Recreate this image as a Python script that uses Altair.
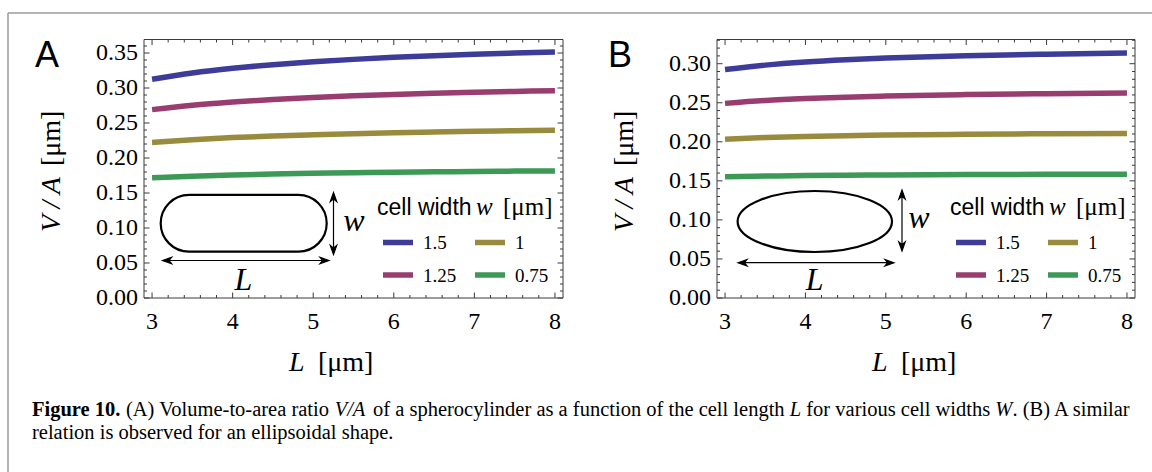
import altair as alt
import pandas as pd

# ---------------- data ----------------
widths = ["1.5", "1.25", "1", "0.75"]
colors = ["#3d3d99", "#993d71", "#998b3d", "#3d9956"]

# Panel A: spherocylinder
L_A = [3, 3.5, 4, 4.5, 5, 5.5, 6, 6.5, 7, 7.5, 8]
A_w150 = [0.3125, 0.3214, 0.3281, 0.3333, 0.3375, 0.3409, 0.3438, 0.3462, 0.3482, 0.3500, 0.3516]
A_w125 = [0.2691, 0.2753, 0.2799, 0.2836, 0.2865, 0.2888, 0.2908, 0.2925, 0.2939, 0.2951, 0.2962]
A_w100 = [0.2222, 0.2262, 0.2292, 0.2315, 0.2333, 0.2348, 0.2361, 0.2372, 0.2381, 0.2389, 0.2396]
A_w075 = [0.1719, 0.1741, 0.1758, 0.1771, 0.1781, 0.1790, 0.1797, 0.1803, 0.1808, 0.1813, 0.1816]

# Panel B: ellipsoid
L_B = [3, 3.5, 4, 4.5, 5, 6, 7, 8]
B_w150 = [0.2925, 0.2982, 0.3022, 0.3051, 0.3073, 0.3103, 0.3122, 0.3136]
B_w125 = [0.2492, 0.2529, 0.2554, 0.2572, 0.2586, 0.2605, 0.2616, 0.2624]
B_w100 = [0.2034, 0.2055, 0.2069, 0.2079, 0.2086, 0.2097, 0.2103, 0.2107]
B_w075 = [0.1552, 0.1561, 0.1568, 0.1572, 0.1576, 0.1580, 0.1583, 0.1585]

x_major = [3, 4, 5, 6, 7, 8]
x_labels = ["3", "4", "5", "6", "7", "8"]
x_minor = [3.2, 3.4, 3.6, 3.8, 4.2, 4.4, 4.6, 4.8, 5.2, 5.4, 5.6, 5.8,
           6.2, 6.4, 6.6, 6.8, 7.2, 7.4, 7.6, 7.8]
yA_major = [0, 0.05, 0.10, 0.15, 0.20, 0.25, 0.30, 0.35]
yA_labels = ["0.00", "0.05", "0.10", "0.15", "0.20", "0.25", "0.30", "0.35"]
yA_minor = [round(i * 0.01, 2) for i in range(1, 37) if i % 5]
yB_major = [0, 0.05, 0.10, 0.15, 0.20, 0.25, 0.30]
yB_labels = ["0.00", "0.05", "0.10", "0.15", "0.20", "0.25", "0.30"]
yB_minor = [round(i * 0.01, 2) for i in range(1, 34) if i % 5]

caption1 = [("Figure 10.", "bold"), (" (A) Volume-to-area ratio ", "normal"), ("V/A", "italic"),
            (" of a spherocylinder as a function of the cell length ", "normal"), ("L", "italic"),
            (" for various cell widths ", "normal"), ("W", "italic"), (". (B) A similar", "normal")]
caption2 = [("relation is observed for an ellipsoidal shape.", "normal")]

# ---------------- layout ----------------
SERIF = "Liberation Serif"
SANS = "Liberation Sans"
FRAME = "#3a3a3a"
TOP, BOT = 39.5, 298
A_X0, A_X1 = 144, 563
B_X0, B_X1 = 717, 1135
XDOM = [2.9, 8.1]
one = pd.DataFrame({"a": [0]})

REG = {' ': 250, '(': 333, ')': 333, '.': 250, '-': 333, '/': 278, 'A': 722, 'B': 667, 'V': 722,
       'W': 944, 'L': 611, 'a': 444, 'b': 500, 'c': 444, 'd': 500, 'e': 444, 'f': 333, 'g': 500,
       'h': 500, 'i': 278, 'j': 278, 'k': 500, 'l': 278, 'm': 778, 'n': 500, 'o': 500, 'p': 500,
       'q': 500, 'r': 333, 's': 389, 't': 278, 'u': 500, 'v': 500, 'w': 722, 'x': 500, 'y': 500,
       'z': 444}
ITA = {' ': 250, 'V': 611, '/': 278, 'A': 611, 'L': 556, 'W': 833}
BOLD = {' ': 250, 'F': 611, 'i': 278, 'g': 500, 'u': 556, 'r': 444, 'e': 444, '1': 500, '0': 500, '.': 250}
TABLES = {"normal": REG, "italic": ITA, "bold": BOLD}


def tw(s, style, size):
    t = TABLES[style]
    return sum(t.get(c, 500) for c in s) * size / 1000.0


def txt(s, x, y, size, font=SERIF, style="normal", weight="normal", align="left",
        baseline="alphabetic", angle=0, color="black"):
    return alt.Chart(one).mark_text(
        text=s, font=font, fontSize=size, fontStyle=style, fontWeight=weight,
        align=align, baseline=baseline, angle=angle, color=color
    ).encode(x=alt.value(x), y=alt.value(y))


def long_df(Ls, series):
    rows = []
    for w, vals in zip(widths, series):
        for L, v in zip(Ls, vals):
            rows.append({"L": L, "v": v, "w": w})
    return pd.DataFrame(rows)


def panel(Ls, series, x0, x1, ymax, y_major, y_labels, y_minor):
    xs = alt.Scale(domain=XDOM, range=[x0, x1], nice=False, zero=False)
    ys = alt.Scale(domain=[0, ymax], range=[BOT, TOP], nice=False, zero=False)
    layers = []
    layers.append(
        alt.Chart(long_df(Ls, series)).mark_line(strokeWidth=5.5, interpolate="monotone").encode(
            x=alt.X("L:Q", scale=xs, axis=None),
            y=alt.Y("v:Q", scale=ys, axis=None),
            color=alt.Color("w:N", scale=alt.Scale(domain=widths, range=colors), legend=None),
        )
    )
    for vals, ln in ((x_major, 5.5), (x_minor, 3)):
        d = pd.DataFrame({"t": vals})
        for ya, yb in ((BOT, BOT - ln), (TOP, TOP + ln)):
            layers.append(alt.Chart(d).mark_rule(color=FRAME, strokeWidth=1).encode(
                x=alt.X("t:Q", scale=xs, axis=None), y=alt.value(ya), y2=alt.value(yb)))
    for vals, ln in ((y_major, 5.5), (y_minor, 3)):
        d = pd.DataFrame({"t": vals})
        for xa, xb in ((x0, x0 + ln), (x1, x1 - ln)):
            layers.append(alt.Chart(d).mark_rule(color=FRAME, strokeWidth=1).encode(
                y=alt.Y("t:Q", scale=ys, axis=None), x=alt.value(xa), x2=alt.value(xb)))
    layers.append(
        alt.Chart(pd.DataFrame({"t": y_major, "lab": y_labels})).mark_text(
            align="right", baseline="middle", font=SERIF, fontSize=24, color="black").encode(
            y=alt.Y("t:Q", scale=ys, axis=None), x=alt.value(x0 - 6), text="lab:N"))
    layers.append(
        alt.Chart(pd.DataFrame({"t": x_major, "lab": x_labels})).mark_text(
            align="center", baseline="alphabetic", font=SERIF, fontSize=24, color="black").encode(
            x=alt.X("t:Q", scale=xs, axis=None), y=alt.value(329), text="lab:N"))
    return alt.layer(*layers)


def arrow_path(length, head=9.0, half=3.2):
    s = length / 2.0
    hl, hw = head / s, half / s
    return ("M-1,0L1,0"
            f"M-1,0L{-1 + hl:.4f},{-hw:.4f}L{-1 + hl * 0.7:.4f},0L{-1 + hl:.4f},{hw:.4f}Z"
            f"M1,0L{1 - hl:.4f},{-hw:.4f}L{1 - hl * 0.7:.4f},0L{1 - hl:.4f},{hw:.4f}Z")


def arrow(cx, cy, length, angle=0):
    return alt.Chart(one).mark_point(
        shape=arrow_path(length), size=length * length, filled=True, fill="black",
        stroke="black", strokeWidth=1.2, opacity=1, angle=angle
    ).encode(x=alt.value(cx), y=alt.value(cy))


def outline(path, width, cx, cy):
    return alt.Chart(one).mark_point(
        shape=path, size=width * width, filled=False, stroke="black", strokeWidth=2.2, opacity=1
    ).encode(x=alt.value(cx), y=alt.value(cy))


def decorations(x0, x1, letter, title_dx, title_bx):
    lay = []
    lay.append(alt.Chart(one).mark_rect(fillOpacity=0, stroke=FRAME, strokeWidth=1).encode(
        x=alt.value(x0), x2=alt.value(x1), y=alt.value(TOP), y2=alt.value(BOT)))
    lay.append(txt(letter, x0 - 109, 67, 36, font=SANS))
    lay.append(txt("V / A", x0 - 92, 232, 28, style="italic", baseline="middle", angle=270))
    lay.append(txt("[μm]", x0 - 92, 166, 28, baseline="middle", angle=270))
    lay.append(txt("L", title_dx, 371, 28, style="italic"))
    lay.append(txt("[μm]", title_bx, 371, 28))
    lay.append(txt("cell width", x0 + 233, 215, 23, font=SANS))
    lay.append(txt("w", x0 + 332, 215, 25, style="italic"))
    lay.append(txt("[μm]", x0 + 359, 215, 25))
    leg = pd.DataFrame({
        "lab": widths, "col": colors,
        "lx": [x0 + 239, x0 + 239, x0 + 331, x0 + 331],
        "ly": [242.5, 275, 242.5, 275],
    })
    leg["lx2"] = leg["lx"] + 30
    leg["tx"] = leg["lx"] + 40
    leg["ty"] = leg["ly"] + 6.5
    lay.append(alt.Chart(leg).mark_rule(strokeWidth=5.5).encode(
        x=alt.X("lx:Q", scale=None), x2="lx2:Q", y=alt.Y("ly:Q", scale=None),
        color=alt.Color("col:N", scale=None)))
    lay.append(alt.Chart(leg).mark_text(align="left", baseline="alphabetic", font=SERIF,
                                        fontSize=19, color="black").encode(
        x=alt.X("tx:Q", scale=None), y=alt.Y("ty:Q", scale=None), text="lab:N"))
    return lay


panelA = panel(L_A, [A_w150, A_w125, A_w100, A_w075], A_X0, A_X1, 0.3693, yA_major, yA_labels, yA_minor)
panelB = panel(L_B, [B_w150, B_w125, B_w100, B_w075], B_X0, B_X1, 0.331, yB_major, yB_labels, yB_minor)

deco = []
deco += decorations(A_X0, A_X1, "A", 289, 318)
deco += decorations(B_X0, B_X1, "B", 872, 901)

r = 56.7 / 166
s = 1 - r
stadium = (f"M{-s:.4f},{-r:.4f}L{s:.4f},{-r:.4f}A{r:.4f},{r:.4f} 0 0 1 {s:.4f},{r:.4f}"
           f"L{-s:.4f},{r:.4f}A{r:.4f},{r:.4f} 0 0 1 {-s:.4f},{-r:.4f}Z")
k = 61 / 154.4
ellipse = f"M-1,0A1,{k:.4f} 0 1 1 1,0A1,{k:.4f} 0 1 1 -1,0Z"
deco.append(outline(stadium, 166, 243.7, 223.3))
deco.append(outline(ellipse, 154.4, 814.8, 221.5))
deco.append(arrow(333.5, 223.5, 62, angle=90))
deco.append(arrow(245.8, 260.5, 166.5))
deco.append(arrow(902, 220.5, 61, angle=90))
deco.append(arrow(816, 262.7, 156))
deco.append(txt("w", 354, 231, 32, style="italic", align="center"))
deco.append(txt("L", 243.5, 290, 32, style="italic", align="center"))
deco.append(txt("w", 919, 228, 32, style="italic", align="center"))
deco.append(txt("L", 814.7, 290, 32, style="italic", align="center"))

deco.append(alt.Chart(one).mark_rule(color="#9a9a9a", strokeWidth=1.5).encode(
    x=alt.value(8), y=alt.value(13), y2=alt.value(472)))
deco.append(alt.Chart(one).mark_rule(color="#9a9a9a", strokeWidth=1.5).encode(
    x=alt.value(8), x2=alt.value(1152), y=alt.value(13)))

CAP = 20.5


def caption_line(segments, x_start, y):
    out = []
    x = x_start
    for text, style in segments:
        lead = len(text) - len(text.lstrip(" "))
        x_text = x + tw(" " * lead, style, CAP)
        stripped = text.strip(" ")
        if stripped.startswith("V"):
            x_text -= 2.5
        if stripped:
            out.append(txt(stripped, x_text, y, CAP,
                           style="italic" if style == "italic" else "normal",
                           weight="bold" if style == "bold" else "normal"))
        x += tw(text, style, CAP)
    return out


deco += caption_line(caption1, 32, 416)
deco += caption_line(caption2, 32, 439)

chart = alt.layer(panelA, panelB, *deco).resolve_scale(
    x="independent", y="independent"
).properties(
    width=1152, height=472, padding=0, autosize="none", background="white"
).configure_view(stroke=None)

chart.save("out.html", embed_options={"renderer": "svg", "actions": False})
